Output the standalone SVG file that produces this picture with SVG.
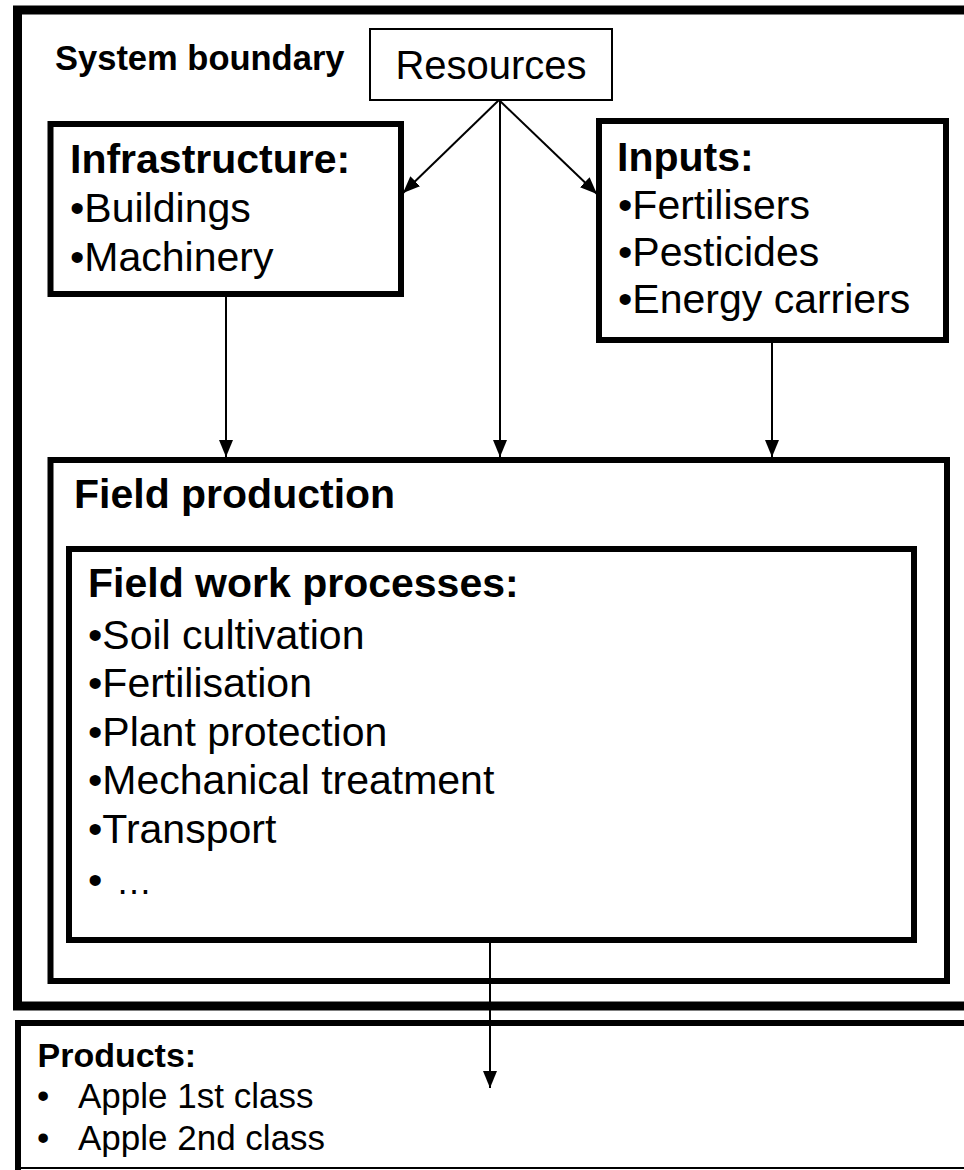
<svg xmlns="http://www.w3.org/2000/svg" width="964" height="1170" viewBox="0 0 964 1170">
<style>
text{font-family:"Liberation Sans",Arial,sans-serif;fill:#000}
.b{font-weight:bold}
.f40{font-size:41px}
.box{fill:none;stroke:#000;stroke-width:6}
.con{stroke:#000;stroke-width:2;fill:none}
</style>
<defs>
<marker id="ah" markerUnits="userSpaceOnUse" markerWidth="18" markerHeight="14" refX="17" refY="7" orient="auto">
<path d="M0,0 L17,7 L0,14 z" fill="#000"/>
</marker>
</defs>
<rect width="964" height="1170" fill="#fff"/>
<g id="system-boundary">
<rect x="17.5" y="10" width="960" height="996" fill="none" stroke="#000" stroke-width="9"/>
<text class="b" x="55" y="70" font-size="34.5">System boundary</text>
</g>
<g id="resources">
<rect x="370" y="29" width="242" height="71" fill="#fff" stroke="#000" stroke-width="2"/>
<text x="491" y="79" font-size="40" text-anchor="middle">Resources</text>
</g>
<g id="infrastructure">
<rect class="box" x="50.5" y="124" width="350.5" height="170"/>
<text class="b f40" x="70" y="173">Infrastructure:</text>
<text class="f40" x="70" y="222">•Buildings</text>
<text class="f40" x="70" y="271">•Machinery</text>
</g>
<g id="inputs">
<rect class="box" x="599" y="121" width="347" height="219"/>
<text class="b f40" x="617" y="171">Inputs:</text>
<text class="f40" x="618" y="219">•Fertilisers</text>
<text class="f40" x="618" y="266">•Pesticides</text>
<text class="f40" x="618" y="313">•Energy carriers</text>
</g>
<g id="field-production">
<rect class="box" x="50.5" y="460" width="896.5" height="521" stroke-width="5.5"/>
<text class="b f40" x="74" y="508">Field production</text>
</g>
<g id="field-work-processes">
<rect class="box" x="69" y="549" width="845" height="391"/>
<text class="b f40" x="88" y="597">Field work processes:</text>
<text class="f40" x="88" y="649">•Soil cultivation</text>
<text class="f40" x="88" y="697">•Fertilisation</text>
<text class="f40" x="88" y="746">•Plant protection</text>
<text class="f40" x="88" y="794">•Mechanical treatment</text>
<text class="f40" x="88" y="843">•Transport</text>
<text class="f40" x="88" y="894">•<tspan x="116" font-size="36">…</tspan></text>
</g>
<g id="products">
<path d="M18,1170 V1023 H970" fill="none" stroke="#000" stroke-width="6"/>
<line x1="15" y1="1168" x2="964" y2="1168" stroke="#000" stroke-width="2"/>
<text class="b" x="37.5" y="1067" font-size="34">Products:</text>
<text font-size="35" y="1108"><tspan x="37">•</tspan><tspan x="78">Apple 1st class</tspan></text>
<text font-size="35" y="1150"><tspan x="37">•</tspan><tspan x="78">Apple 2nd class</tspan></text>
</g>
<g id="connectors">
<line class="con" x1="499" y1="100" x2="403" y2="193" marker-end="url(#ah)"/>
<line class="con" x1="499" y1="100" x2="597" y2="194" marker-end="url(#ah)"/>
<line class="con" x1="500" y1="100" x2="500" y2="457" marker-end="url(#ah)"/>
<line class="con" x1="226" y1="297" x2="226" y2="457" marker-end="url(#ah)"/>
<line class="con" x1="772" y1="343" x2="772" y2="457" marker-end="url(#ah)"/>
<line class="con" x1="490" y1="943" x2="490" y2="1088" marker-end="url(#ah)"/>
</g>
</svg>
